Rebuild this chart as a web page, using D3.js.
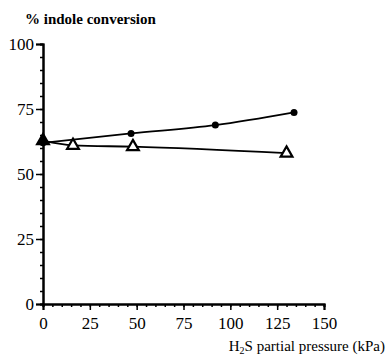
<!DOCTYPE html>
<html>
<head>
<meta charset="utf-8">
<script src="https://cdn.jsdelivr.net/npm/d3@7"></script>
<style>
    body { margin: 0; background: #fff; }
</style>
</head>
<body>
<svg id="graph_svg"></svg>
<script>
// data
const circleX = [0, 47, 92, 134];
const circleY = [62, 65.6, 68.8, 73.7];
const triX = [0, 16, 48, 130];
const triY = [62.8, 61, 60.5, 58];
const xTicks = [0, 25, 50, 75, 100, 125, 150];
const yTicks = [0, 25, 50, 75, 100];

const width = 387, height = 359;
const marginLeft = 43, marginTop = 44;
const plotW = 281, plotH = 260;
const serif = "'Liberation Serif'";

let svg = d3.select("#graph_svg")
    .attr("width", width)
    .attr("height", height);

let scaleX = d3.scaleLinear().domain([0, 150]).range([0, plotW]);
let scaleY = d3.scaleLinear().domain([0, 100]).range([plotH, 0]);

let g = svg.append("g")
    .attr("transform", `translate(${marginLeft}, ${marginTop})`);

// minor ticks every 5
let axisXMinor = d3.axisBottom(scaleX).tickValues(d3.range(0, 151, 5)).tickSize(3).tickFormat("");
let axisYMinor = d3.axisLeft(scaleY).tickValues(d3.range(0, 101, 5)).tickSize(3).tickFormat("");
let axisX = d3.axisBottom(scaleX).tickValues(xTicks).tickSize(6).tickPadding(6);
let axisY = d3.axisLeft(scaleY).tickValues(yTicks).tickSize(7).tickPadding(2);

g.append("g").attr("transform", `translate(0, ${plotH})`).call(axisXMinor);
g.append("g").call(axisYMinor);
let gx = g.append("g").attr("transform", `translate(0, ${plotH})`).call(axisX);
let gy = g.append("g").call(axisY);

g.selectAll(".domain").attr("stroke", "#000").attr("stroke-width", 2);
g.selectAll(".tick line").attr("stroke", "#000").attr("stroke-width", 1.5);
g.selectAll(".tick text").attr("font-family", serif).attr("font-size", 17);
gx.selectAll(".tick text").attr("dy", "0.75em");

// lines
let circleData = circleX.map((x, i) => [x, circleY[i]]);
let triData = triX.map((x, i) => [x, triY[i]]);

let line = d3.line()
    .x(d => scaleX(d[0]))
    .y(d => scaleY(d[1]))
    .curve(d3.curveMonotoneX);

g.append("path").datum(circleData)
    .attr("d", line).attr("fill", "none").attr("stroke", "#000").attr("stroke-width", 1.8);
g.append("path").datum(triData)
    .attr("d", line).attr("fill", "none").attr("stroke", "#000").attr("stroke-width", 1.8);

let tri = d3.symbol().type(d3.symbolTriangle).size(60);
g.selectAll(".tri").data(triData).enter()
    .append("path")
    .attr("d", tri)
    .attr("transform", d => `translate(${scaleX(d[0])}, ${scaleY(d[1])})`)
    .attr("fill", (d, i) => i === 0 ? "#000" : "#fff")
    .attr("stroke", "#000")
    .attr("stroke-width", 2.2);

g.selectAll(".dot").data(circleData).enter()
    .append("circle")
    .attr("r", 3.5)
    .attr("cx", d => scaleX(d[0]))
    .attr("cy", d => scaleY(d[1]))
    .attr("fill", "#000");

// axis titles
svg.append("text")
    .attr("x", 25).attr("y", 24)
    .attr("font-family", serif)
    .attr("font-size", 15).attr("font-weight", "bold")
    .text("% indole conversion");

let xt = svg.append("text")
    .attr("x", 385).attr("y", 351)
    .attr("text-anchor", "end")
    .attr("font-family", serif)
    .attr("font-size", 15);
xt.append("tspan").text("H");
xt.append("tspan").attr("dy", 3).attr("font-size", 10).text("2");
xt.append("tspan").attr("dy", -3).text("S partial pressure (kPa)");
</script>
</body>
</html>
